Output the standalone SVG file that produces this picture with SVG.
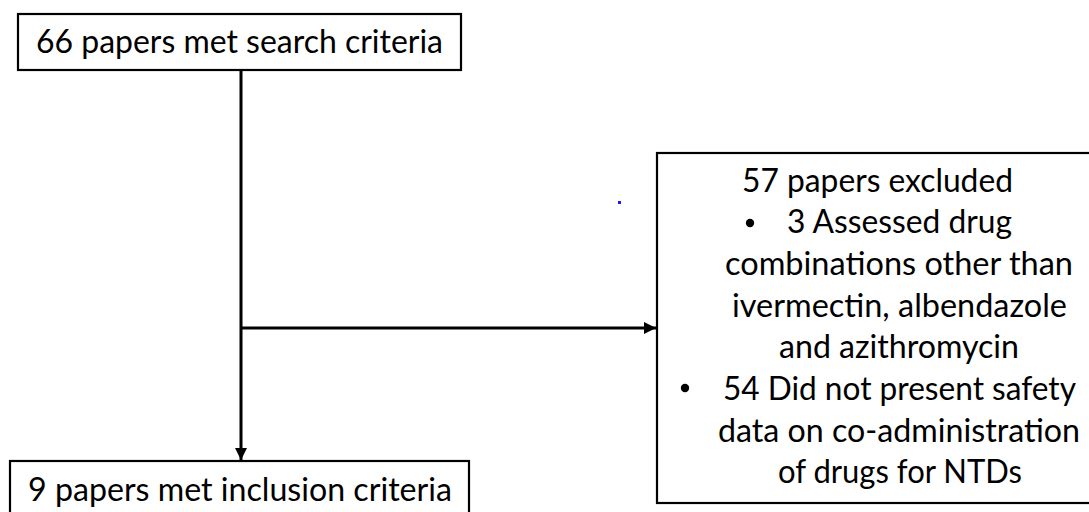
<svg xmlns="http://www.w3.org/2000/svg" width="1089" height="512" viewBox="0 0 1089 512">
<style>
.box{fill:#fff;stroke:#000;stroke-width:2.2}
.t{font-family:Lato,"Open Sans","Liberation Sans",sans-serif;font-size:32px;fill:#000}
.c{stroke:#000;stroke-width:3;fill:none}
</style>
<defs>
<marker id="ah" markerUnits="userSpaceOnUse" markerWidth="14" markerHeight="14" viewBox="0 0 14 14" refX="12" refY="7" orient="auto">
<path d="M0,1 L12,7 L0,13 Z" fill="#000"/>
</marker>
</defs>
<rect width="1089" height="512" fill="#fff"/>
<g id="connectors">
<line class="c" x1="241" y1="70" x2="241" y2="460" marker-end="url(#ah)"/>
<line class="c" x1="241" y1="328" x2="656" y2="328" marker-end="url(#ah)"/>
</g>
<g id="n1">
<rect class="box" x="18" y="14" width="443" height="56"/>
<text class="t" x="36" y="53" textLength="407" lengthAdjust="spacingAndGlyphs">66 papers met search criteria</text>
</g>
<g id="n2">
<rect class="box" x="10" y="461" width="459" height="60"/>
<text class="t" x="28" y="501" textLength="424" lengthAdjust="spacingAndGlyphs">9 papers met inclusion criteria</text>
</g>
<g id="n3">
<rect class="box" x="657" y="153" width="440" height="350"/>
<text class="t" x="742" y="192" textLength="271" lengthAdjust="spacingAndGlyphs">57 papers excluded</text>
<circle cx="750" cy="223" r="4.2"/>
<text class="t" x="787" y="233" textLength="225" lengthAdjust="spacingAndGlyphs">3 Assessed drug</text>
<text class="t" x="725" y="275" textLength="348" lengthAdjust="spacingAndGlyphs">combinations other than</text>
<text class="t" x="732" y="317" textLength="335" lengthAdjust="spacingAndGlyphs">ivermectin, albendazole</text>
<text class="t" x="779" y="358" textLength="240" lengthAdjust="spacingAndGlyphs">and azithromycin</text>
<circle cx="685" cy="388" r="4.2"/>
<text class="t" x="723" y="400" textLength="353" lengthAdjust="spacingAndGlyphs">54 Did not present safety</text>
<text class="t" x="718" y="442" textLength="362" lengthAdjust="spacingAndGlyphs">data on co-administration</text>
<text class="t" x="778" y="483" textLength="244" lengthAdjust="spacingAndGlyphs">of drugs for NTDs</text>
</g>
<rect x="618" y="201" width="3" height="3" fill="#1a1aff"/>
</svg>
